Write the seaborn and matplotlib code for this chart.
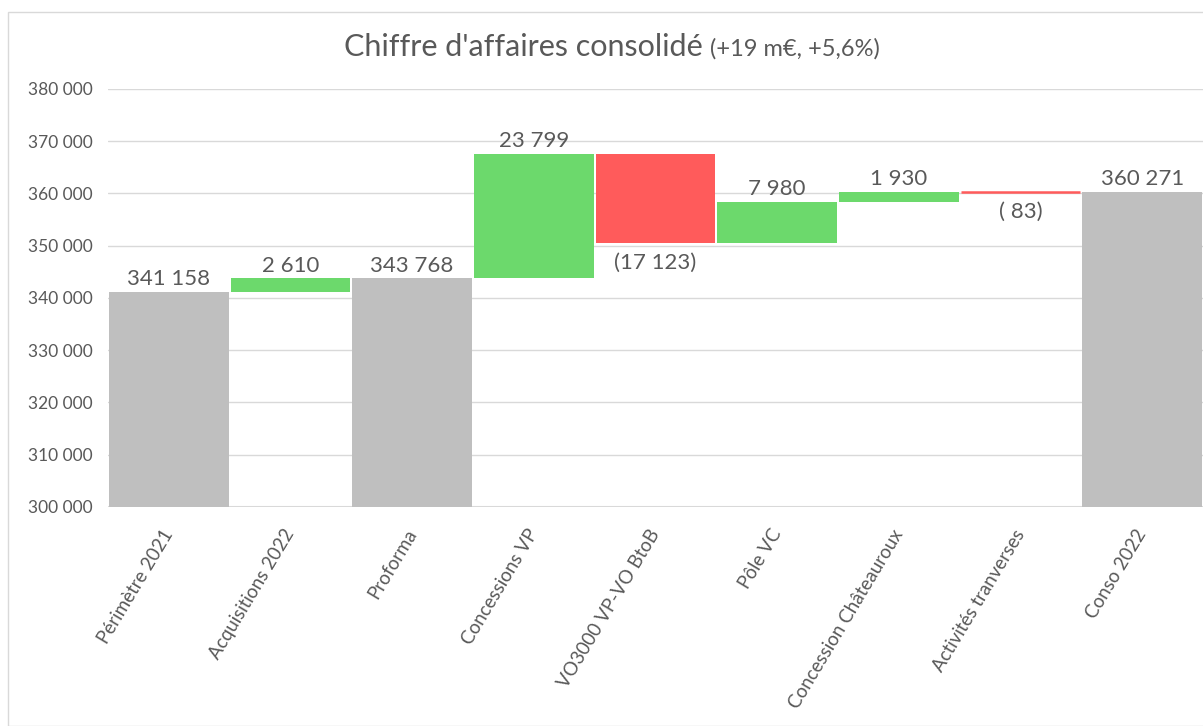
import numpy as np
import matplotlib
matplotlib.use("Agg")
import matplotlib.pyplot as plt
from matplotlib.patches import Rectangle
import seaborn as sns

# waterfall data (k€)
categories = ["Périmètre 2021", "Acquisitions 2022", "Proforma", "Concessions VP",
              "VO3000 VP-VO BtoB", "Pôle VC", "Concession Châteauroux",
              "Activités tranverses", "Conso 2022"]
values = [341158, 2610, 343768, 23799, -17123, 7980, 1930, -83, 360271]
is_total = [True, False, True, False, False, False, False, False, True]
yticks = [300000, 310000, 320000, 330000, 340000, 350000, 360000, 370000, 380000]

GREY = "#BFBFBF"
GREEN = "#6CD96C"
RED = "#FF5B5B"
TEXT = "#595959"


def fmt(v):
    s = f"{abs(v):,}".replace(",", " ")
    if v < 0:
        if abs(v) < 1000:
            s = " " + s
        return f"({s})"
    return s


# bottoms of each bar: totals start at 0, deltas float on the running level
bottoms = []
level = 0
for v, tot in zip(values, is_total):
    if tot:
        bottoms.append(0)
        level = v
    else:
        bottoms.append(level)
        level += v
bottoms = np.array(bottoms)
tops = bottoms + np.array(values)
colors = [GREY if t else (GREEN if v >= 0 else RED) for v, t in zip(values, is_total)]

sns.set_theme(style="white")
plt.rcParams["font.family"] = ["Lato", "DejaVu Sans"]

fig = plt.figure(figsize=(12.03, 7.26), dpi=100)
ax = fig.add_axes([108 / 1203, 1 - 507 / 726, 1 - 108 / 1203, (507 - 89) / 726])

sns.barplot(x=categories, y=values, bottom=bottoms, ax=ax, errorbar=None,
            color=GREY, saturation=1, width=0.984, edgecolor="none",
            linewidth=0, zorder=3)
for patch, c, v in zip(ax.patches, colors, values):
    patch.set_facecolor(c)
    # tiny deltas still get a visible sliver, as in Excel
    if abs(v) < 500:
        patch.set_edgecolor(c)
        patch.set_linewidth(1.8)

# value labels
for i, v in enumerate(values):
    if v >= 0:
        ax.annotate(fmt(v), (i, tops[i]), xytext=(0, 2), textcoords="offset points",
                    ha="center", va="bottom", fontsize=16, color=TEXT, zorder=5)
    else:
        ax.annotate(fmt(v), (i, tops[i]), xytext=(0, -7), textcoords="offset points",
                    ha="center", va="top", fontsize=16, color=TEXT, zorder=5)

ax.set_ylim(yticks[0], yticks[-1])
ax.set_yticks(yticks)
ax.set_yticklabels([f"{t:,}".replace(",", " ") for t in yticks])
ax.set_xlim(-0.5, len(categories) - 0.5)
ax.yaxis.grid(True, color="#D9D9D9", linewidth=1, zorder=0)
ax.set_axisbelow(True)
for s in ax.spines.values():
    s.set_visible(False)
ax.axhline(yticks[0], color="#D9D9D9", linewidth=1.5, zorder=2)

ax.tick_params(axis="y", length=0, pad=11, labelsize=12.5, labelcolor=TEXT)
ax.tick_params(axis="x", length=0, pad=17, labelsize=13.5, labelcolor=TEXT)
plt.setp(ax.get_xticklabels(), rotation=59, ha="right", va="center",
         rotation_mode="anchor")
ax.set_xlabel("")
ax.set_ylabel("")

# title
fig.text(703 / 1203, 1 - 47 / 726, "Chiffre d'affaires consolidé", ha="right",
         va="center", fontsize=22, color=TEXT)
fig.text(710 / 1203, 1 - 49 / 726, "(+19 m€, +5,6%)", ha="left",
         va="center", fontsize=17, color=TEXT)

# chart frame
fig.patches.append(Rectangle((8 / 1203, 0), 1.2, 1 - 12 / 726, transform=fig.transFigure,
                             fill=False, edgecolor="#D9D9D9", linewidth=1, zorder=0))

fig.savefig("out.png", dpi=100)
